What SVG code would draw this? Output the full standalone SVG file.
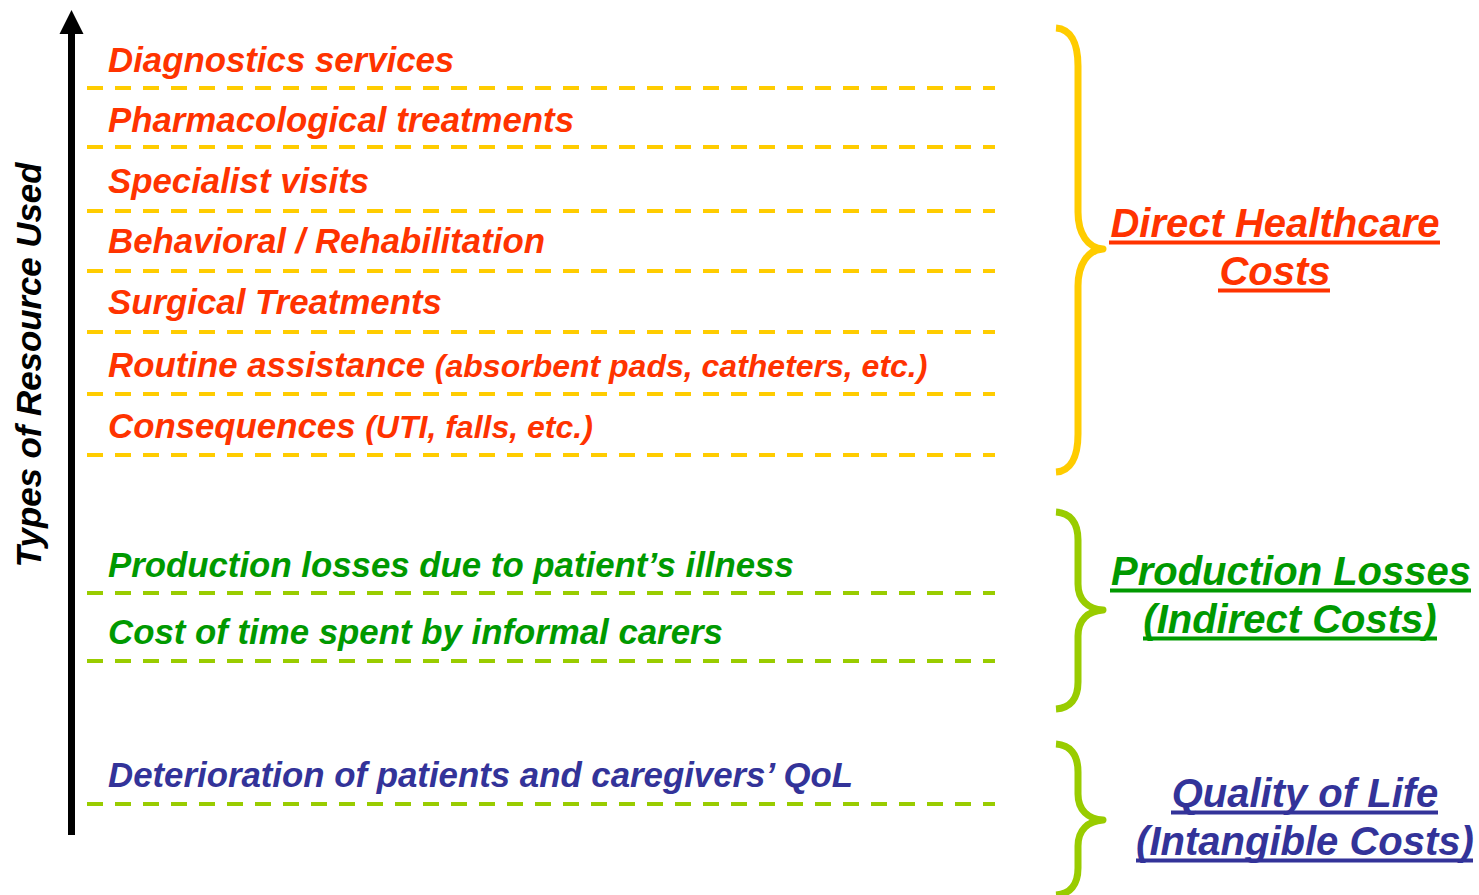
<svg xmlns="http://www.w3.org/2000/svg" width="1479" height="895" viewBox="0 0 1479 895">
  <defs>
    <style>
      text { font-family: "Liberation Sans", Arial, sans-serif; font-weight: bold; font-style: italic; }
      .item { font-size: 34.8px; }
      .small { font-size: 32px; }
      .cat { font-size: 40px; text-anchor: middle; }
      .red { fill: #FF3300; }
      .green { fill: #009900; }
      .blue { fill: #333399; }
      .ul { stroke-width: 3.8; }
      .ul-red { stroke: #FF3300; }
      .ul-green { stroke: #009900; }
      .ul-blue { stroke: #333399; }
      .dash { fill: none; stroke-width: 4; stroke-dasharray: 16 12; }
      .dash-y { stroke: #FFCC00; }
      .dash-g { stroke: #99CC00; }
      .brace { fill: none; stroke-width: 7; stroke-linecap: butt; stroke-linejoin: round; }
    </style>
  </defs>

  <rect width="1479" height="895" fill="#fff"/>

  <!-- vertical axis -->
  <g id="axis">
    <line x1="71.5" y1="835" x2="71.5" y2="33" stroke="#000" stroke-width="7"/>
    <path d="M71.5,10 L83.5,34 L59.5,34 Z" fill="#000"/>
    <text class="item" fill="#000" text-anchor="middle" transform="translate(41,365) rotate(-90)">Types of Resource Used</text>
  </g>

  <!-- dashed separators -->
  <g id="separators">
    <line class="dash dash-y" x1="87" y1="88" x2="995" y2="88"/>
    <line class="dash dash-y" x1="87" y1="147" x2="995" y2="147"/>
    <line class="dash dash-y" x1="87" y1="211" x2="995" y2="211"/>
    <line class="dash dash-y" x1="87" y1="271" x2="995" y2="271"/>
    <line class="dash dash-y" x1="87" y1="332" x2="995" y2="332"/>
    <line class="dash dash-y" x1="87" y1="394" x2="995" y2="394"/>
    <line class="dash dash-y" x1="87" y1="455" x2="995" y2="455"/>
    <line class="dash dash-g" x1="87" y1="593" x2="995" y2="593"/>
    <line class="dash dash-g" x1="87" y1="661" x2="995" y2="661"/>
    <line class="dash dash-g" x1="87" y1="804" x2="995" y2="804"/>
  </g>

  <!-- resource items -->
  <g id="item-diagnostics"><text class="item red" x="108" y="72">Diagnostics services</text></g>
  <g id="item-pharma"><text class="item red" x="108" y="132">Pharmacological treatments</text></g>
  <g id="item-specialist"><text class="item red" x="108" y="193">Specialist visits</text></g>
  <g id="item-behavioral"><text class="item red" x="108" y="253">Behavioral / Rehabilitation</text></g>
  <g id="item-surgical"><text class="item red" x="108" y="314">Surgical Treatments</text></g>
  <g id="item-routine"><text class="item red" x="108" y="377">Routine assistance <tspan class="small">(absorbent pads, catheters, etc.)</tspan></text></g>
  <g id="item-consequences"><text class="item red" x="108" y="438">Consequences <tspan class="small">(UTI, falls, etc.)</tspan></text></g>
  <g id="item-production"><text class="item green" x="108" y="577">Production losses due to patient’s illness</text></g>
  <g id="item-carers"><text class="item green" x="108" y="644">Cost of time spent by informal carers</text></g>
  <g id="item-qol"><text class="item blue" x="108" y="787">Deterioration of patients and caregivers’ QoL</text></g>

  <!-- grouping braces -->
  <g id="brace-direct">
    <path class="brace" stroke="#FFCC00" d="M1056,28 C1070,29 1078,42 1078,66 L1078,212 C1078,234 1088,248 1103,249 C1088,250 1078,264 1078,286 L1078,434 C1078,458 1070,471 1056,472"/>
  </g>
  <g id="brace-indirect">
    <path class="brace" stroke="#99CC00" d="M1056,512 C1070,513 1078,522 1078,540 L1078,584 C1078,600 1088,609 1103,610 C1088,611 1078,620 1078,636 L1078,682 C1078,699 1070,708 1056,709"/>
  </g>
  <g id="brace-intangible">
    <path class="brace" stroke="#99CC00" d="M1056,744 C1070,745 1078,754 1078,772 L1078,794 C1078,810 1088,819 1103,820 C1088,821 1078,830 1078,846 L1078,868 C1078,885 1070,894 1056,895"/>
  </g>

  <!-- cost categories (underlined headings) -->
  <g id="cat-direct">
    <text class="cat red" x="1275" y="237">Direct Healthcare</text>
    <line class="ul ul-red" x1="1109" y1="242.5" x2="1440" y2="242.5"/>
    <text class="cat red" x="1275" y="285">Costs</text>
    <line class="ul ul-red" x1="1218" y1="290.5" x2="1330" y2="290.5"/>
  </g>
  <g id="cat-indirect">
    <text class="cat green" x="1291" y="585">Production Losses</text>
    <line class="ul ul-green" x1="1110" y1="590.5" x2="1471" y2="590.5"/>
    <text class="cat green" x="1290" y="633">(Indirect Costs)</text>
    <line class="ul ul-green" x1="1143" y1="638.5" x2="1437" y2="638.5"/>
  </g>
  <g id="cat-intangible">
    <text class="cat blue" x="1305" y="807">Quality of Life</text>
    <line class="ul ul-blue" x1="1171" y1="812.5" x2="1438" y2="812.5"/>
    <text class="cat blue" x="1305" y="855">(Intangible Costs)</text>
    <line class="ul ul-blue" x1="1136" y1="860.5" x2="1473" y2="860.5"/>
  </g>
</svg>
